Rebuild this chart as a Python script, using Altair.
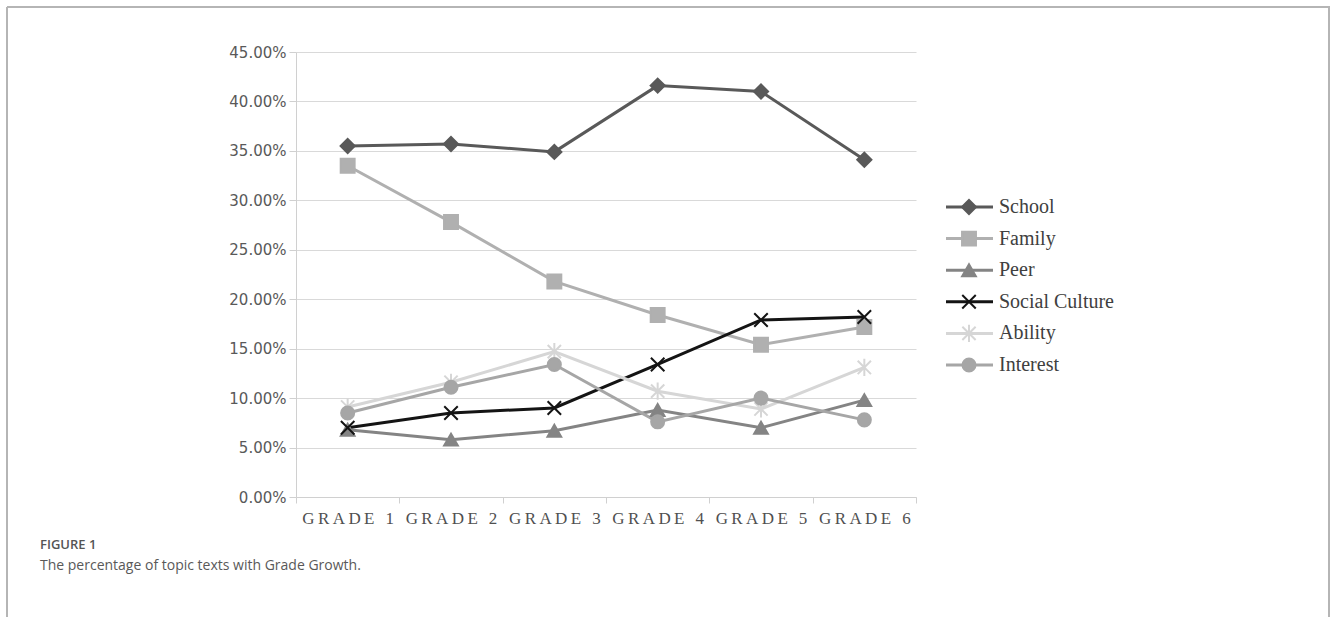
import altair as alt
import pandas as pd

grades = ["GRADE 1", "GRADE 2", "GRADE 3", "GRADE 4", "GRADE 5", "GRADE 6"]
series = ["School", "Family", "Peer", "Social Culture", "Ability", "Interest"]

school = [0.355, 0.357, 0.349, 0.416, 0.410, 0.341]
family = [0.335, 0.278, 0.218, 0.184, 0.154, 0.172]
peer = [0.068, 0.058, 0.067, 0.088, 0.070, 0.098]
social_culture = [0.070, 0.085, 0.090, 0.134, 0.179, 0.182]
ability = [0.091, 0.116, 0.147, 0.107, 0.089, 0.131]
interest = [0.085, 0.111, 0.134, 0.076, 0.100, 0.078]

y_ticks = [0.0, 0.05, 0.10, 0.15, 0.20, 0.25, 0.30, 0.35, 0.40, 0.45]

colors = ["#595959", "#b0b0b0", "#848484", "#141414", "#d6d6d6", "#a6a6a6"]
x_path = "M-1,-1L1,1M-1,1L1,-1"
star_path = "M-1,-1L1,1M-1,1L1,-1M0,-1.3L0,1.3"
shapes = ["diamond", "square", "triangle-up", x_path, star_path, "circle"]
sizes = [200, 170, 170, 150, 150, 220]

caption_label = "FIGURE 1"
caption_text = "The percentage of topic texts with Grade Growth."

rows = []
for s, vals in zip(series, [school, family, peer, social_culture, ability, interest]):
    for g, v in zip(grades, vals):
        rows.append({"grade": g, "series": s, "value": v})
df = pd.DataFrame(rows)
legend_df = pd.DataFrame({"series": series})
one = pd.DataFrame({"k": [0]})

color_scale = alt.Scale(domain=series, range=colors)
shape_scale = alt.Scale(domain=series, range=shapes)
size_scale = alt.Scale(domain=series, range=sizes)

x_scale = alt.Scale(type="band", domain=grades, paddingInner=0, paddingOuter=0)
y_scale = alt.Scale(domain=[0, 0.45], nice=False)

x_axis = alt.Axis(
    title=None, tickBand="extent", labelAngle=0, grid=False,
    labelFont="Liberation Serif", labelFontSize=17, labelColor="#505050",
    labelPadding=7, tickSize=6, tickColor="#d0d0d0", domainColor="#d0d0d0",
    labelExpr="join(split(datum.label, ''), '\u2009')",
)
y_axis = alt.Axis(
    title=None, values=y_ticks, format=".2%", grid=True, gridColor="#d9d9d9",
    labelFont="DejaVu Sans", labelFontSize=15, labelColor="#595959",
    labelPadding=3, tickSize=7, tickColor="#d0d0d0", domainColor="#d0d0d0",
)

x_enc = alt.X("grade:N", scale=x_scale, bandPosition=0.5, axis=x_axis)

lines = alt.Chart(df).mark_line(strokeWidth=3).encode(
    x=x_enc,
    y=alt.Y("value:Q", scale=y_scale, axis=y_axis),
    color=alt.Color("series:N", scale=color_scale, legend=None),
    order=alt.Order("grade:N"),
)

points = alt.Chart(df).mark_point(filled=True, opacity=1, strokeWidth=2).encode(
    x=x_enc,
    y=alt.Y("value:Q", scale=y_scale, axis=None),
    color=alt.Color("series:N", scale=color_scale, legend=None),
    stroke=alt.Stroke("series:N", scale=color_scale, legend=None),
    shape=alt.Shape("series:N", scale=shape_scale, legend=None),
    size=alt.Size("series:N", scale=size_scale, legend=None),
)

ly = alt.Y("series:N", scale=alt.Scale(type="point", domain=series, range=[155, 313], padding=0), axis=None)

leg_rule = alt.Chart(legend_df).mark_rule(strokeWidth=3).encode(
    x=alt.value(650), x2=alt.value(697), y=ly,
    color=alt.Color("series:N", scale=color_scale, legend=None),
)
leg_pts = alt.Chart(legend_df).mark_point(filled=True, opacity=1, strokeWidth=2).encode(
    x=alt.value(673), y=ly,
    color=alt.Color("series:N", scale=color_scale, legend=None),
    stroke=alt.Stroke("series:N", scale=color_scale, legend=None),
    shape=alt.Shape("series:N", scale=shape_scale, legend=None),
    size=alt.Size("series:N", scale=size_scale, legend=None),
)
leg_text = alt.Chart(legend_df).mark_text(
    align="left", baseline="middle", font="Liberation Serif", fontSize=20, color="#404040"
).encode(x=alt.value(703), y=ly, text="series:N")

frame_top = alt.Chart(one).mark_rule(color="#b5b5b5", strokeWidth=2).encode(
    x=alt.value(-289), x2=alt.value(1034), y=alt.value(-45))
frame_left = alt.Chart(one).mark_rule(color="#b5b5b5", strokeWidth=2).encode(
    x=alt.value(-289), y=alt.value(-45), y2=alt.value(570))
frame_right = alt.Chart(one).mark_rule(color="#b5b5b5", strokeWidth=2).encode(
    x=alt.value(1033), y=alt.value(-45), y2=alt.value(570))

cap1 = alt.Chart(one).mark_text(
    align="left", baseline="middle", font="Open Sans", fontSize=13, fontWeight=600, color="#555555"
).encode(x=alt.value(-256), y=alt.value(493), text=alt.value(caption_label))
cap2 = alt.Chart(one).mark_text(
    align="left", baseline="middle", font="Open Sans", fontSize=14, color="#595959"
).encode(x=alt.value(-256), y=alt.value(514), text=alt.value(caption_text))

chart = alt.layer(
    lines, points, leg_rule, leg_pts, leg_text,
    frame_top, frame_left, frame_right, cap1, cap2,
).resolve_scale(y="independent").properties(
    width=620, height=445,
    autosize=alt.AutoSizeParams(type="none"),
    padding={"left": 296, "top": 52, "right": 414, "bottom": 120},
    background="white",
).configure_view(stroke=None)

chart.save("out.html", embed_options={"renderer": "svg", "actions": False})
